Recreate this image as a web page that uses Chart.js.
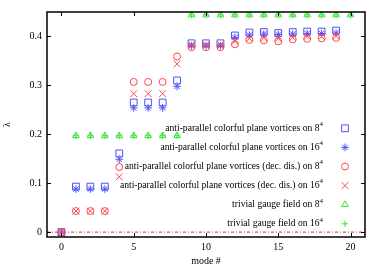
<!DOCTYPE html>
<html><head><meta charset="utf-8">
<script src="https://cdn.jsdelivr.net/npm/chart.js@4"></script>
<style>html,body{margin:0;padding:0;background:#fff}canvas{display:block}</style>
</head><body>
<canvas id="c" width="382" height="268"></canvas>
<script>
// ---- data ----
const modes = [0,1,2,3,4,5,6,7,8,9,10,11,12,13,14,15,16,17,18,19];
const trivialModes = [1,2,3,4,5,6,7,8,9,10,11,12,13,14,15,16,17,18,19,20];
const apcpv8   = [0,0.093,0.093,0.093,0.161,0.265,0.265,0.265,0.310,0.386,0.386,0.386,0.402,0.408,0.409,0.407,0.409,0.410,0.410,0.412];
const apcpv16  = [0,0.088,0.088,0.088,0.149,0.254,0.254,0.254,0.298,0.381,0.381,0.381,0.398,0.403,0.405,0.404,0.405,0.406,0.406,0.407];
const apcpvDd8 = [0,0.043,0.043,0.043,0.133,0.307,0.307,0.307,0.359,0.378,0.378,0.378,0.384,0.393,0.392,0.390,0.394,0.395,0.396,0.397];
const apcpvDd16= [0,0.043,0.043,0.043,0.113,0.283,0.283,0.283,0.344,0.383,0.383,0.383,0.390,0.396,0.397,0.396,0.398,0.400,0.400,0.401];
const trivial8  = [0.197,0.197,0.197,0.197,0.197,0.197,0.197,0.197,0.444,0.444,0.444,0.444,0.444,0.444,0.444,0.444,0.444,0.444,0.444,0.444];
const trivial16 = [0.197,0.197,0.197,0.197,0.197,0.197,0.197,0.197,0.444,0.444,0.444,0.444,0.444,0.444,0.444,0.444,0.444,0.444,0.444,0.444];
const labels = [
  'anti-parallel colorful plane vortices on 8⁴',
  'anti-parallel colorful plane vortices on 16⁴',
  'anti-parallel colorful plane vortices (dec. dis.) on 8⁴',
  'anti-parallel colorful plane vortices (dec. dis.) on 16⁴',
  'trivial gauge field on 8⁴',
  'trivial gauge field on 16⁴'
];
const xTicks = [0,5,10,15,20];
const yTicks = [0,0.1,0.2,0.3,0.4];
const xTitle = 'mode #';
const yTitle = 'λ';

const FONT = '"Liberation Serif", "Times New Roman", serif';
Chart.defaults.font.family = FONT;
Chart.defaults.font.size = 10;
Chart.defaults.color = '#000';

const BLUE = 'rgb(80,80,255)', RED = 'rgb(255,70,70)', GREEN = 'rgb(50,230,50)';
const pts = (xs, ys) => xs.map((x, i) => ({x, y: ys[i]}));
const styles = [
  {c: BLUE, s: 'rect', r: 4.8},
  {c: BLUE, s: 'star', r: 3.8},
  {c: RED, s: 'circle', r: 3.5},
  {c: RED, s: 'crossRot', r: 4.8},
  {c: GREEN, s: 'triangle', r: 3.8},
  {c: GREEN, s: 'cross', r: 3.2}
];
const series = [
  pts(modes, apcpv8), pts(modes, apcpv16), pts(modes, apcpvDd8), pts(modes, apcpvDd16),
  pts(trivialModes, trivial8), pts(trivialModes, trivial16)
];
const datasets = series.map((d, i) => ({
  label: labels[i], data: d, order: 6 - i,
  pointStyle: styles[i].s, pointRadius: styles[i].r, pointHoverRadius: styles[i].r,
  borderColor: styles[i].c, backgroundColor: 'rgba(0,0,0,0)', pointBorderWidth: 1, showLine: false
}));
datasets.push({
  label: 'zero', type: 'line', data: [{x: -1, y: 0}, {x: 21, y: 0}], order: 20,
  borderColor: 'rgb(200,50,30)', borderWidth: 1, borderDash: [3, 2, 1, 2], pointRadius: 0
});

const framePlugin = {
  id: 'frame',
  afterDatasetsDraw(chart) {
    const {ctx, chartArea: a, scales} = chart;
    ctx.save();
    ctx.strokeStyle = '#000';
    ctx.lineWidth = 1;
    const L = 4;
    ctx.beginPath();
    scales.x.ticks.forEach(t => {
      const px = Math.round(scales.x.getPixelForValue(t.value)) + 0.5;
      ctx.moveTo(px, a.bottom); ctx.lineTo(px, a.bottom - L);
      ctx.moveTo(px, a.top); ctx.lineTo(px, a.top + L);
    });
    scales.y.ticks.forEach(t => {
      const py = Math.round(scales.y.getPixelForValue(t.value)) + 0.5;
      ctx.moveTo(a.left, py); ctx.lineTo(a.left + L, py);
      ctx.moveTo(a.right, py); ctx.lineTo(a.right - L, py);
    });
    ctx.stroke();
    ctx.lineWidth = 1.5;
    ctx.strokeRect(a.left, a.top, a.right - a.left, a.bottom - a.top);
    ctx.restore();
  },
  afterDraw(chart) {
    const {ctx} = chart;
    const xr = 323, xm = 345, y0 = 128.3, dy = 19.1;
    ctx.save();
    chart.data.datasets.slice(0, 6).forEach((ds, i) => {
      const y = y0 + i * dy;
      let txt = ds.label, sup = '';
      if (txt.endsWith('⁴')) { txt = txt.slice(0, -1); sup = '4'; }
      ctx.fillStyle = '#000';
      ctx.textBaseline = 'middle';
      ctx.textAlign = 'right';
      ctx.font = '7px ' + FONT;
      const sw = sup ? ctx.measureText(sup).width : 0;
      if (sup) ctx.fillText(sup, xr, y - 4);
      ctx.font = '9.6px ' + FONT;
      ctx.fillText(txt, xr - sw, y);
      ctx.strokeStyle = ds.borderColor;
      ctx.fillStyle = 'rgba(0,0,0,0)';
      ctx.lineWidth = 1;
      Chart.helpers.drawPoint(ctx, {pointStyle: ds.pointStyle, radius: ds.pointRadius, rotation: 0, borderWidth: 1}, xm, y);
    });
    ctx.restore();
  }
};

new Chart(document.getElementById('c'), {
  type: 'scatter',
  data: {datasets},
  options: {
    responsive: false, animation: false,
    layout: {padding: {top: 12, right: 17, left: 0, bottom: 0}},
    plugins: {legend: {display: false}, tooltip: {enabled: false}},
    scales: {
      x: {
        type: 'linear', min: -1, max: 21,
        afterBuildTicks: s => { s.ticks = xTicks.map(v => ({value: v})); },
        afterFit: s => { s.height = 31; },
        grid: {display: false, drawTicks: false}, border: {display: false},
        ticks: {padding: 4, callback: v => String(v), maxRotation: 0, autoSkip: false},
        title: {display: true, text: xTitle, padding: {top: 0, bottom: 1}, font: {size: 10}}
      },
      y: {
        type: 'linear', min: -0.01, max: 0.45,
        afterBuildTicks: s => { s.ticks = yTicks.map(v => ({value: v})); },
        afterFit: s => { s.width = 47; },
        grid: {display: false, drawTicks: false}, border: {display: false},
        ticks: {padding: 5, callback: v => String(v), autoSkip: false},
        title: {display: true, text: yTitle, padding: {top: 1, bottom: 0}, font: {size: 10}}
      }
    }
  },
  plugins: [framePlugin]
});
</script>
</body></html>
